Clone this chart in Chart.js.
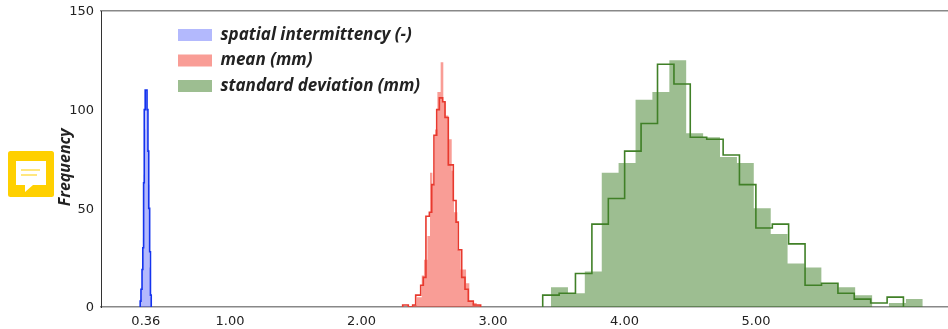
<!DOCTYPE html>
<html><head><meta charset="utf-8">
<style>html,body{margin:0;padding:0;background:#fff;overflow:hidden}
#wrap{position:relative;width:948px;height:329px}
canvas{display:block}
#note{position:absolute;left:8px;top:151px}</style>
<script src="https://cdn.jsdelivr.net/npm/chart.js@4"></script>
</head><body><div id="wrap"><canvas id="c" width="948" height="329"></canvas>
<svg id="note" width="46" height="46" viewBox="0 0 46 46"><rect width="46" height="46" rx="2.5" fill="#ffd000"/><path d="M8 10H38V34H25L17 41V34H8Z" fill="#fff"/><path d="M13 19H32M13 24H29" stroke="#ffd000" stroke-width="1.2"/></svg>
</div>
<script>
const xTicks = [0.36, 1, 2, 3, 4, 5];
const yTicks = [0, 50, 100, 150];
const seriesNames = ['spatial intermittency (-)', 'mean (mm)', 'standard deviation (mm)'];

const blueFillEdges = [0.319,0.325,0.332,0.338,0.344,0.350,0.356,0.366,0.373,0.380,0.387,0.394,0.402];
const blueFillCounts = [4,10,25,35,67,90,110,100,80,62,20,5];
const blueLineEdges = [0.317,0.323,0.331,0.337,0.343,0.348,0.355,0.369,0.376,0.382,0.389,0.395,0.401];
const blueLineCounts = [3,9,19,30,63,100,110,100,79,50,28,6];

const redFillEdges = [2.394,2.420,2.458,2.475,2.501,2.521,2.539,2.559,2.577,2.602,2.622,2.640,2.660,2.686,2.703,2.729,2.754,2.795,2.820,2.845,2.876,2.906];
const redFillCounts = [1,5,16,24,36,68,62,90,109,124,104,97,85,69,48,29,19,12,3,2,1];
const redLineEdges = [2.313,2.356,2.389,2.412,2.450,2.470,2.490,2.516,2.534,2.551,2.572,2.592,2.617,2.635,2.660,2.698,2.719,2.736,2.762,2.787,2.812,2.850,2.906];
const redLineCounts = [1,0,1,6,11,15,46,48,62,87,100,106,104,96,72,54,43,29,15,9,3,1];

const greenFillEdges = [3.441,3.570,3.698,3.827,3.955,4.084,4.212,4.341,4.469,4.598,4.726,4.855,4.983,5.112,5.240,5.369,5.497,5.626,5.754,5.883,6.011,6.140,6.268];
const greenFillCounts = [10,7,18,68,73,105,109,125,88,86,76,73,50,37,22,20,12,10,6,0,2,4];
const greenLineEdges = [3.378,3.503,3.627,3.752,3.877,4.001,4.126,4.251,4.376,4.500,4.625,4.750,4.874,4.999,5.124,5.248,5.373,5.498,5.623,5.747,5.872,5.997,6.121];
const greenLineCounts = [6,7,17,42,55,79,93,123,113,86,85,77,62,40,42,32,11,12,7,4,2,5];

function steps(edges, counts) {
  const pts = [{x: edges[0], y: 0}];
  counts.forEach((c, i) => pts.push({x: edges[i], y: c}));
  pts.push({x: edges[edges.length - 1], y: 0});
  return pts;
}
function fillSet(label, edges, counts, color, order) {
  return {label, data: steps(edges, counts), stepped: 'before', fill: 'origin',
    backgroundColor: color, borderColor: color, borderWidth: 0, pointRadius: 0, order};
}
function lineSet(edges, counts, color, order) {
  return {label: '', data: steps(edges, counts), stepped: 'before', fill: false,
    borderColor: color, borderWidth: 1.6, pointRadius: 0, order};
}
const legendPlugin = {
  id: 'legendPlace',
  beforeDraw(chart) { chart.legend.left = 169.5; chart.legend.top = 18; }
};
new Chart(document.getElementById('c'), {
  type: 'line',
  data: {datasets: [
    fillSet(seriesNames[0], blueFillEdges, blueFillCounts, 'rgba(65,80,250,0.4)', 6),
    fillSet(seriesNames[1], redFillEdges, redFillCounts, 'rgba(243,60,45,0.5)', 5),
    fillSet(seriesNames[2], greenFillEdges, greenFillCounts, 'rgba(60,125,35,0.5)', 4),
    lineSet(blueLineEdges, blueLineCounts, '#1433ee', 3),
    lineSet(redLineEdges, redLineCounts, '#e8392e', 2),
    lineSet(greenLineEdges, greenLineCounts, '#408027', 1)
  ]},
  options: {
    responsive: false, animation: false,
    layout: {padding: {top: 11, right: 0, left: 0, bottom: 0}},
    plugins: {
      tooltip: {enabled: false},
      legend: {
        position: 'chartArea', align: 'start',
        labels: {
          boxWidth: 34, boxHeight: 12, padding: 8.5, color: '#222',
          font: {family: 'Open Sans', size: 17, weight: 'bold', style: 'italic'},
          filter: item => item.text !== '',
          sort: (a, b) => a.datasetIndex - b.datasetIndex
        }
      }
    },
    scales: {
      x: {
        type: 'linear', min: 0.019, max: 6.46, position: 'bottom',
        afterBuildTicks(s) { s.ticks = xTicks.map(v => ({value: v})); },
        afterFit(s) { s.height = 22; },
        grid: {display: false, drawTicks: true, tickLength: 4, tickColor: '#333'},
        border: {color: '#888', width: 1.5},
        ticks: {color: '#222', font: {family: 'DejaVu Sans', size: 13}, maxRotation: 0, autoSkip: false, padding: 3,
          callback: v => Number(v).toFixed(2)}
      },
      xTop: {
        type: 'linear', min: 0.019, max: 6.46, position: 'top',
        afterFit(s) { s.height = 0; },
        grid: {display: false, drawTicks: false},
        border: {color: '#888', width: 1.5},
        ticks: {display: false}
      },
      y: {
        min: 0, max: 150,
        afterBuildTicks(s) { s.ticks = yTicks.map(v => ({value: v})); },
        afterFit(s) { s.width = 101; },
        grid: {display: false, drawTicks: true, tickLength: 4, tickColor: '#333'},
        border: {color: '#333', width: 1},
        ticks: {color: '#222', font: {family: 'DejaVu Sans', size: 13}, padding: 3, labelOffset: 1},
        title: {display: true, text: 'Frequency    ', color: '#222', padding: {top: 55.5, bottom: 0},
          font: {family: 'Open Sans', size: 16, weight: 'bold', style: 'italic'}}
      }
    }
  },
  plugins: [legendPlugin]
});
</script></body></html>
